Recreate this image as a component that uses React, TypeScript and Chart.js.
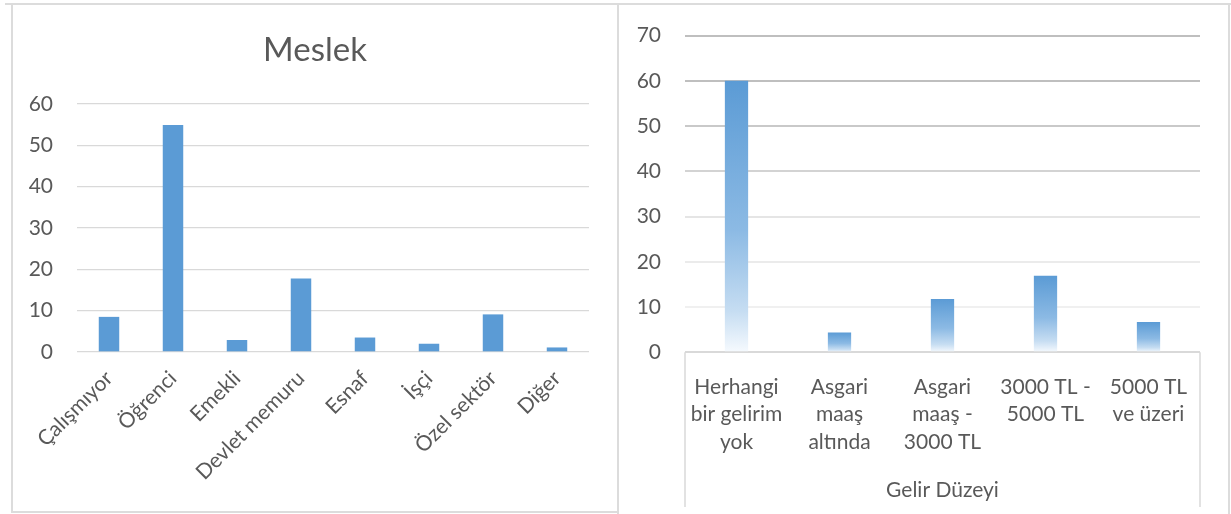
import React, { useEffect, useRef } from 'react';
import { Chart, registerables } from 'chart.js';

Chart.register(...registerables);

// ---- Data ----
const meslekTitle = 'Meslek';
const meslekLabels = ['Çalışmıyor', 'Öğrenci', 'Emekli', 'Devlet memuru', 'Esnaf', 'İşçi', 'Özel sektör', 'Diğer'];
const meslekValues = [8.5, 54.9, 2.9, 17.8, 3.5, 2.0, 9.1, 1.1];
const meslekMax = 60;
const meslekStep = 10;

const gelirTitle = 'Gelir Düzeyi';
const gelirLabels = [
  ['Herhangi', 'bir gelirim', 'yok'],
  ['Asgari', 'maaş', 'altında'],
  ['Asgari', 'maaş -', '3000 TL'],
  ['3000 TL -', '5000 TL'],
  ['5000 TL', 've üzeri'],
];
const gelirValues = [60, 4.4, 11.8, 16.9, 6.7];
const gelirMax = 70;
const gelirStep = 10;

const FONT = 'Lato, "Open Sans", sans-serif';
const TEXT = '#595959';
const BLUE = '#5b9bd5';

const gelirGridColors: Record<number, string> = {
  0: '#d9d9d9',
  10: '#f0f0f0',
  20: '#ebebeb',
  30: '#e5e5e5',
  40: '#d3d3d3',
  50: '#c9c9c9',
  60: '#bfbfbf',
  70: '#bfbfbf',
};

const axisBox = {
  id: 'axisBox',
  afterDraw(chart: any) {
    const { ctx, chartArea, scales } = chart;
    const xs = scales.x;
    ctx.save();
    ctx.strokeStyle = '#d9d9d9';
    ctx.lineWidth = 1.5;
    ctx.beginPath();
    ctx.moveTo(chartArea.left, chartArea.bottom);
    ctx.lineTo(chartArea.left, xs.bottom);
    ctx.moveTo(chartArea.right, chartArea.bottom);
    ctx.lineTo(chartArea.right, xs.bottom);
    ctx.stroke();
    ctx.restore();
  },
};

function MeslekChart() {
  const ref = useRef<HTMLCanvasElement>(null);
  useEffect(() => {
    if (!ref.current) return;
    const chart = new Chart(ref.current, {
      type: 'bar',
      data: {
        labels: meslekLabels,
        datasets: [
          {
            data: meslekValues,
            backgroundColor: BLUE,
            borderWidth: 0,
            categoryPercentage: 1,
            barPercentage: 0.32,
          },
        ],
      },
      options: {
        animation: false,
        responsive: true,
        maintainAspectRatio: false,
        layout: { padding: { left: 0, right: 0, top: 0, bottom: 0 } },
        plugins: {
          legend: { display: false },
          tooltip: { enabled: false },
          title: {
            display: true,
            text: meslekTitle,
            color: TEXT,
            font: { family: FONT, size: 33, weight: 'normal' },
            padding: { top: 24, bottom: 33.4 },
          },
        },
        scales: {
          x: {
            grid: { display: false },
            border: { display: false },
            ticks: {
              color: TEXT,
              font: { family: FONT, size: 21 },
              minRotation: 45,
              maxRotation: 45,
              padding: 6,
              autoSkip: false,
            },
            afterFit(scale: any) {
              scale.height = 158;
              scale.paddingRight = 27;
            },
          },
          y: {
            min: 0,
            max: meslekMax,
            border: { display: false },
            grid: { color: '#d9d9d9', lineWidth: 1.3, drawTicks: false },
            ticks: {
              stepSize: meslekStep,
              color: TEXT,
              font: { family: FONT, size: 21 },
              padding: 24,
            },
            afterFit(scale: any) {
              scale.width = 63;
            },
          },
        },
      },
    });
    return () => chart.destroy();
  }, []);
  return <canvas ref={ref} />;
}

function GelirChart() {
  const ref = useRef<HTMLCanvasElement>(null);
  useEffect(() => {
    if (!ref.current) return;
    const chart = new Chart(ref.current, {
      type: 'bar',
      data: {
        labels: gelirLabels as any,
        datasets: [
          {
            data: gelirValues,
            backgroundColor: (ctx: any) => {
              const c = ctx.chart;
              if (!c.chartArea || ctx.type !== 'data') return BLUE;
              const ys = c.scales.y;
              const top = ys.getPixelForValue(ctx.raw);
              const base = ys.getPixelForValue(0);
              if (!isFinite(top) || !isFinite(base) || top === base) return BLUE;
              const g = c.ctx.createLinearGradient(0, top, 0, base);
              g.addColorStop(0, 'rgb(91,155,213)');
              g.addColorStop(0.55, 'rgb(140,186,228)');
              g.addColorStop(0.85, 'rgb(198,221,242)');
              g.addColorStop(1, 'rgb(246,250,254)');
              return g;
            },
            borderWidth: 0,
            categoryPercentage: 1,
            barPercentage: 0.226,
          },
        ],
      },
      options: {
        animation: false,
        responsive: true,
        maintainAspectRatio: false,
        layout: { padding: { left: 0, right: 27, top: 28.5, bottom: 0 } },
        plugins: {
          legend: { display: false },
          tooltip: { enabled: false },
        },
        scales: {
          x: {
            grid: { display: false },
            border: { display: false },
            ticks: {
              color: TEXT,
              font: { family: FONT, size: 21, lineHeight: 1.31 },
              maxRotation: 0,
              minRotation: 0,
              padding: 13,
              autoSkip: false,
            },
            title: {
              display: true,
              text: gelirTitle,
              color: TEXT,
              font: { family: FONT, size: 21 },
              padding: { top: 4, bottom: 4 },
            },
            afterFit(scale: any) {
              scale.height = 154.7;
            },
          },
          y: {
            min: 0,
            max: gelirMax,
            border: { display: false },
            grid: {
              color: (ctx: any) => gelirGridColors[ctx.tick?.value] ?? '#d9d9d9',
              lineWidth: 2,
              drawTicks: false,
            },
            ticks: {
              stepSize: gelirStep,
              color: TEXT,
              font: { family: FONT, size: 21 },
              padding: 24,
            },
            afterFit(scale: any) {
              scale.width = 66;
              scale.paddingTop = 10;
              scale.paddingBottom = 10;
            },
          },
        },
      },
      plugins: [axisBox],
    });
    return () => chart.destroy();
  }, []);
  return <canvas ref={ref} />;
}

export default function App() {
  return (
    <div
      style={{
        position: 'fixed',
        left: 0,
        top: 0,
        width: 1231,
        height: 514,
        background: '#ffffff',
        overflow: 'hidden',
      }}
    >
      <div style={{ position: 'absolute', left: 5, top: 3, width: 1226, height: 2, background: '#dcdcdc' }} />
      <div
        style={{
          position: 'absolute',
          left: 11,
          top: 3,
          width: 608,
          height: 510,
          border: '2px solid #dcdcdc',
          boxSizing: 'border-box',
        }}
      />
      <div
        style={{
          position: 'absolute',
          left: 617,
          top: 3,
          width: 613,
          height: 530,
          border: '2px solid #dcdcdc',
          boxSizing: 'border-box',
        }}
      />
      <div style={{ position: 'absolute', left: 14, top: 7, width: 602, height: 503 }}>
        <MeslekChart />
      </div>
      <div style={{ position: 'absolute', left: 619, top: 7, width: 608, height: 500 }}>
        <GelirChart />
      </div>
    </div>
  );
}
